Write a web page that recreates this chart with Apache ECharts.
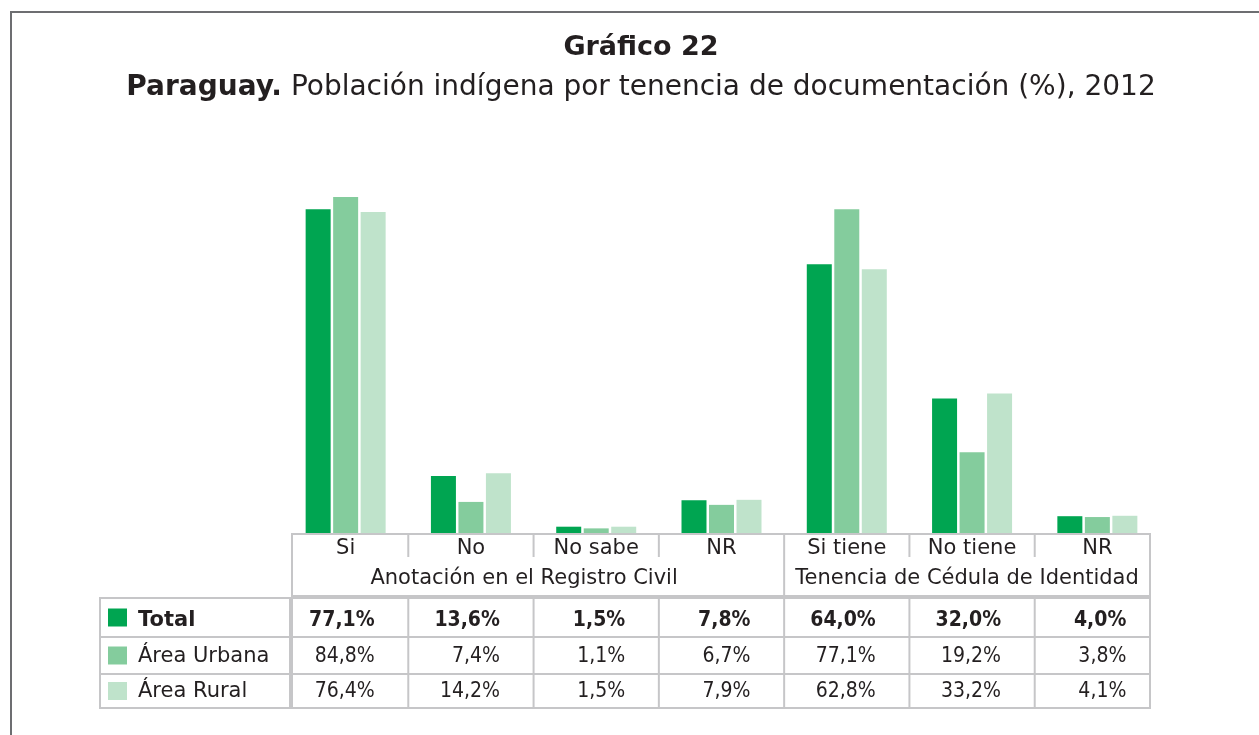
<!DOCTYPE html>
<html style="height: 100%">
<head>
    <meta charset="utf-8">
    <script src="https://cdn.jsdelivr.net/npm/echarts@6/dist/echarts.min.js"></script>
</head>
<body style="height: 100%; margin: 0; background: #fff">
    <div id="main" style="width:1259px;height:735px;"></div>
    <script type="text/javascript">
    // datos
    var categories = ['Si', 'No', 'No sabe', 'NR', 'Si tiene', 'No tiene', 'NR'];
    var groupNames = ['Anotación en el Registro Civil', 'Tenencia de Cédula de Identidad'];
    var groupSizes = [4, 3];
    var seriesNames = ['Total', 'Área Urbana', 'Área Rural'];
    var total = [77.1, 13.6, 1.5, 7.8, 64.0, 32.0, 4.0];
    var urbana = [84.8, 7.4, 1.1, 6.7, 77.1, 19.2, 3.8];
    var rural = [76.4, 14.2, 1.5, 7.9, 62.8, 33.2, 4.1];

    var colors = ['#00a551', '#84cc9d', '#bfe3cb'];
    var FONT = "'DejaVu Sans', 'Noto Sans', sans-serif";
    var NUMFONT = "'DejaVu Sans Condensed', 'DejaVu Sans', sans-serif";
    var TXT = '#231f20';
    var LINE = '#c6c6c8';

    var myChart = echarts.init(document.getElementById('main'));

    function fmt(v) {
        return v.toFixed(1).replace('.', ',') + '%';
    }

    var option = {
        animation: false,
        grid: { left: 283, width: 877, top: 197, bottom: 202 },
        xAxis: {
            type: 'category',
            data: categories,
            show: false
        },
        yAxis: { type: 'value', min: 0, max: 80, show: false },
        series: [total, urbana, rural].map(function(d, i) {
            return {
                name: seriesNames[i],
                type: 'bar',
                data: d,
                barWidth: 25,
                barGap: '10%',
                clip: true,
                itemStyle: { color: colors[i] }
            };
        })
    };
    myChart.setOption(option);

    // tabla de datos debajo de las barras
    function buildTable() {
        var g = [];
        var c0 = myChart.convertToPixel({ xAxisIndex: 0 }, 0);
        var c1 = myChart.convertToPixel({ xAxisIndex: 0 }, 1);
        var band = c1 - c0;
        var centers = categories.map(function(c, i) {
            return myChart.convertToPixel({ xAxisIndex: 0 }, i);
        });
        var bounds = [];
        for (var i = 0; i <= categories.length; i++) bounds.push(c0 - band / 2 + i * band);
        var left = bounds[0] + 9, right = bounds[bounds.length - 1] - 10;
        var hTop = 534, hBottom = 596, shortEnd = 557;
        var rows = [598, 637, 674, 708];
        var ls = { stroke: LINE, lineWidth: 2 };

        // marco y titulo
        g.push({ type: 'rect', shape: { x: 11, y: 12, width: 1400, height: 900 }, style: { fill: 'none', stroke: '#6d6e71', lineWidth: 2 } });
        g.push({ type: 'text', x: 641, y: 48, style: { text: 'Gráfico 22', font: 'bold 27px ' + FONT, fill: TXT, textAlign: 'center', textVerticalAlign: 'middle' } });
        g.push({ type: 'text', x: 641, y: 88, style: {
            text: '{b|Paraguay.} Población indígena por tenencia de documentación (%), 2012',
            fontSize: 28, fontFamily: FONT, fill: TXT, textAlign: 'center', textVerticalAlign: 'middle',
            rich: { b: { fontWeight: 'bold', fontSize: 28, fontFamily: FONT, fill: TXT } }
        } });

        // cabecera
        g.push({ type: 'rect', shape: { x: left, y: hTop, width: right - left, height: hBottom - hTop }, style: { fill: 'none', stroke: LINE, lineWidth: 2 } });
        var idx = 0;
        groupSizes.forEach(function(n, gi) {
            var a = idx, b = idx + n;
            for (var k = a + 1; k < b; k++) {
                g.push({ type: 'line', shape: { x1: bounds[k], y1: hTop, x2: bounds[k], y2: shortEnd }, style: ls });
            }
            if (b < categories.length) {
                g.push({ type: 'line', shape: { x1: bounds[b], y1: hTop, x2: bounds[b], y2: hBottom }, style: ls });
            }
            var gl = a === 0 ? left : bounds[a];
            var gr = b === categories.length ? right : bounds[b];
            g.push({ type: 'text', x: (gl + gr) / 2 - (gi === 0 ? 14 : 0), y: 579, style: { text: groupNames[gi], font: '21px ' + FONT, fill: TXT, textAlign: 'center', textVerticalAlign: 'middle' } });
            idx = b;
        });
        categories.forEach(function(c, i) {
            g.push({ type: 'text', x: centers[i], y: 549, style: { text: c, font: '21px ' + FONT, fill: TXT, textAlign: 'center', textVerticalAlign: 'middle' } });
        });

        // filas
        g.push({ type: 'rect', shape: { x: 100, y: rows[0], width: left - 2 - 100, height: rows[3] - rows[0] }, style: { fill: 'none', stroke: LINE, lineWidth: 2 } });
        g.push({ type: 'rect', shape: { x: left, y: rows[0], width: right - left, height: rows[3] - rows[0] }, style: { fill: 'none', stroke: LINE, lineWidth: 2 } });
        for (var r = 1; r < 3; r++) {
            g.push({ type: 'line', shape: { x1: 100, y1: rows[r], x2: right, y2: rows[r] }, style: ls });
        }
        for (var k = 1; k < categories.length; k++) {
            g.push({ type: 'line', shape: { x1: bounds[k], y1: rows[0], x2: bounds[k], y2: rows[3] }, style: ls });
        }
        [total, urbana, rural].forEach(function(d, ri) {
            var yc = (rows[ri] + rows[ri + 1]) / 2 + (ri === 0 ? 3 : 1);
            var weight = ri === 0 ? 'bold ' : '';
            g.push({ type: 'rect', shape: { x: 108, y: (rows[ri] + rows[ri + 1]) / 2 - 9, width: 19, height: 18 }, style: { fill: colors[ri] } });
            g.push({ type: 'text', x: 138, y: yc, style: { text: seriesNames[ri], font: weight + '21px ' + FONT, fill: TXT, textVerticalAlign: 'middle' } });
            d.forEach(function(v, i) {
                g.push({ type: 'text', x: centers[i] + 29, y: yc, style: { text: fmt(v), font: weight + '21px ' + NUMFONT, fill: TXT, textAlign: 'right', textVerticalAlign: 'middle' } });
            });
        });
        myChart.setOption({ graphic: g });
    }
    buildTable();
    </script>
</body>
</html>
